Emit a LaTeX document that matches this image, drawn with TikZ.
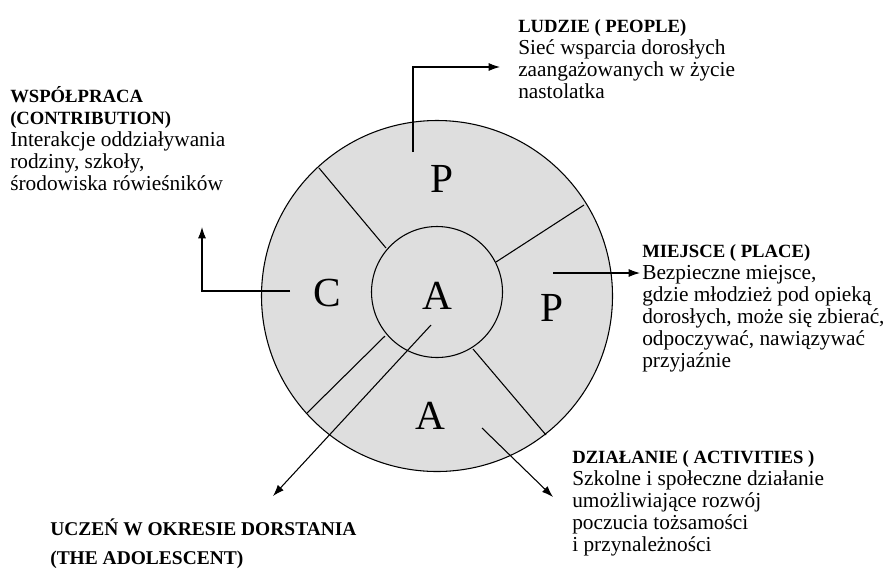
\documentclass[tikz,border=0pt]{standalone}
\usepackage{fontspec}
\setmainfont{Liberation Serif}
\usetikzlibrary{arrows.meta}
\definecolor{tlo}{RGB}{222,222,222}
\newcommand\naglowek[1]{{\fontsize{14}{16.5}\selectfont\bfseries #1}}
\tikzset{
  opis/.style={anchor=base west, inner sep=0pt, align=left, font=\fontsize{16}{16.5}\selectfont},
  litera/.style={inner sep=0pt, font=\fontsize{31}{31}\selectfont},
  strzalka/.style={-{Latex[length=8.5pt,width=6pt]}, line width=0.8pt},
  linia/.style={line width=0.8pt}
}

\begin{document}
\begin{tikzpicture}[x=0.75pt,y=-0.75pt]
  \useasboundingbox (0,0) rectangle (885,569);

  % kolo zewnetrzne i wewnetrzne
  \coordinate (srodek) at (437,296);
  \coordinate (rdzen) at (437,292);
  \draw[linia, fill=tlo] (srodek) circle [radius=175.5];
  \draw[linia] (rdzen) circle [radius=65.5];

  % podzial na pola
  \foreach \xa/\ya/\xb/\yb in {319/168/386/248, 584/205/496/262,
                               307/413/385/336, 546/435/473/349}
    \draw[linia] (\xa,\ya) -- (\xb,\yb);

  % litery w polach
  \foreach \nazwa/\x/\y/\lit in {ludzie/442/179/P, miejsce/552/308/P,
                                 dzialanie/430/416/A, wspolpraca/327/293/C,
                                 uczen/437/296/A}
    \node[litera] (lit-\nazwa) at (\x,\y) {\lit};

  % opisy (punkt = linia bazowa ostatniego wiersza)
  \node[opis] (ludzie) at (518,98)
    {\naglowek{LUDZIE ( PEOPLE)}\\Sieć wsparcia dorosłych\\zaangażowanych w życie\\nastolatka};
  \node[opis] (miejsce) at (642,367)
    {\naglowek{MIEJSCE ( PLACE)}\\Bezpieczne miejsce,\\gdzie młodzież pod opieką\\dorosłych, może się zbierać,\\odpoczywać, nawiązywać\\przyjaźnie};
  \node[opis] (dzialanie) at (572,551)
    {\naglowek{DZIAŁANIE ( ACTIVITIES )}\\Szkolne i społeczne działanie\\umożliwiające rozwój\\poczucia tożsamości\\i przynależności};
  \node[opis] (wspolpraca) at (10,190)
    {\naglowek{WSPÓŁPRACA}\\\naglowek{(CONTRIBUTION)}\\Interakcje oddziaływania\\rodziny, szkoły,\\środowiska rówieśników};
  \node[opis, font=\fontsize{14.6}{16.5}\selectfont\bfseries] (uczen) at (50,564)
    {UCZEŃ W OKRESIE DORSTANIA\\[5.25pt](THE ADOLESCENT)};

  % strzalki
  \coordinate (s-ludzie) at (413,152);
  \coordinate (k-ludzie) at (500,67);
  \coordinate (s-miejsce) at (553,273);
  \coordinate (k-miejsce) at (640,273);
  \coordinate (s-dzialanie) at (482,428);
  \coordinate (k-dzialanie) at (553,497);
  \coordinate (s-wspolpraca) at (290,291);
  \coordinate (k-wspolpraca) at (202,227);
  \coordinate (s-uczen) at (431,325);
  \coordinate (k-uczen) at (273,496);

  \draw[strzalka] (s-ludzie) |- (k-ludzie);
  \draw[strzalka] (s-miejsce) -- (k-miejsce);
  \draw[strzalka] (s-dzialanie) -- (k-dzialanie);
  \draw[strzalka] (s-wspolpraca) -| (k-wspolpraca);
  \draw[strzalka] (s-uczen) -- (k-uczen);
\end{tikzpicture}
\end{document}
